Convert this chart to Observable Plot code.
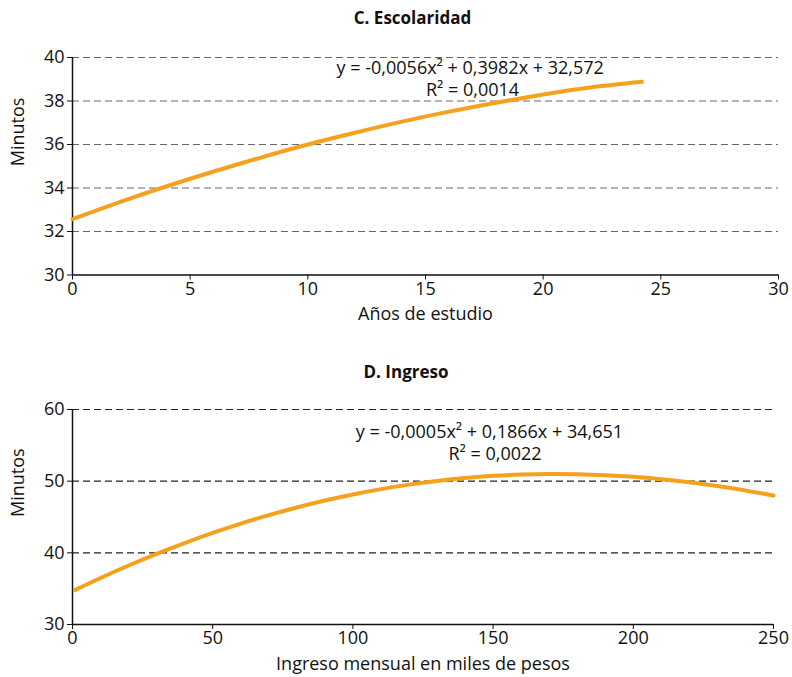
<!DOCTYPE html>
<html>
<head>
<meta charset="utf-8">
<script src="https://cdn.jsdelivr.net/npm/d3@7"></script>
<script src="https://cdn.jsdelivr.net/npm/@observablehq/plot@0.6"></script>
<style>
  body { margin: 0; background: #fff; }
  svg { display: block; }
</style>
</head>
<body>
<div id="chart"></div>
<script>
// ---- Panel C: Escolaridad ----
const cTitle = "C. Escolaridad";
const cXLabel = "Años de estudio";
const cYears   = [0, 2, 4, 6, 8, 10, 12, 14, 16, 18, 20, 22, 24.2];
const cMinutes = [32.57, 33.35, 34.08, 34.76, 35.40, 36.00, 36.54, 37.05, 37.51, 37.92, 38.30, 38.62, 38.88];
const cXTicks = [0, 5, 10, 15, 20, 25, 30];
const cYTicks = [30, 32, 34, 36, 38, 40];
const cEquation = ["y = -0,0056x² + 0,3982x + 32,572", "R² = 0,0014"];

// ---- Panel D: Ingreso ----
const dTitle = "D. Ingreso";
const dXLabel = "Ingreso mensual en miles de pesos";
const dIncome  = [1, 10, 20, 30, 40, 50, 60, 70, 80, 90, 100, 110, 120, 130, 140, 150, 160, 170, 180, 190, 200, 210, 220, 230, 240, 250];
const dMinutes = [34.83, 36.49, 38.23, 39.86, 41.37, 42.78, 44.08, 45.26, 46.33, 47.30, 48.15, 48.89, 49.52, 50.03, 50.44, 50.74, 50.92, 51.00, 50.97, 50.84, 50.61, 50.28, 49.86, 49.33, 48.71, 48.00];
const dXTicks = [0, 50, 100, 150, 200, 250];
const dYTicks = [30, 40, 50, 60];
const dEquation = ["y = -0,0005x² + 0,1866x + 34,651", "R² = 0,0022"];

const yLabel = "Minutos";
const FONT = "'Open Sans', 'Noto Sans', sans-serif";
const ORANGE = "#F6A11E";

function panel(o) {
  const data = o.xs.map((x, i) => ({x, y: o.ys[i]}));
  return Plot.plot({
    width: 792,
    height: o.height,
    marginTop: o.marginTop,
    marginBottom: o.marginBottom,
    marginLeft: 72,
    marginRight: o.marginRight,
    style: {fontFamily: FONT, fontSize: "18px", color: "#111", background: "#fff", overflow: "visible"},
    x: {domain: o.xDomain, label: null},
    y: {domain: o.yDomain, label: null},
    marks: [
      Plot.ruleY(o.yTicks.filter(t => t !== o.yDomain[0]), {stroke: o.gridColor, strokeDasharray: "7,4", strokeWidth: 1.2}),
      Plot.axisX({ticks: o.xTicks, tickSize: 5, tickPadding: 2, label: null, tickFormat: d => String(d), fontSize: 18, stroke: "#111"}),
      Plot.axisY({ticks: o.yTicks, tickSize: 5, tickPadding: 3, label: null, tickFormat: d => String(d), fontSize: 18, stroke: "#111"}),
      Plot.ruleX([o.xDomain[0]], {stroke: "#111", strokeWidth: 1.5}),
      Plot.ruleY([o.yDomain[0]], {stroke: "#111", strokeWidth: 1.5}),
      Plot.line(data, {x: "x", y: "y", stroke: ORANGE, strokeWidth: 4, curve: "natural"}),
      Plot.text([o.eq[0]], {x: o.eqX[0], y: o.eqY[0], text: d => d, fontSize: 18, textAnchor: "middle", fill: "#111"}),
      Plot.text([o.eq[1]], {x: o.eqX[1], y: o.eqY[1], text: d => d, fontSize: 18, textAnchor: "middle", fill: "#111"}),
      Plot.text([o.title], {frameAnchor: "top", dx: o.titleDx, dy: o.titleDy, text: d => d, lineAnchor: "middle", fontWeight: "bold", fontSize: 17, fill: "#111"}),
      Plot.text([yLabel], {frameAnchor: "left", dx: -54, rotate: -90, text: d => d, lineAnchor: "middle", fontSize: 18, fill: "#111"}),
      Plot.text([o.xLabel], {frameAnchor: "bottom", dy: o.xLabelDy, text: d => d, lineAnchor: "middle", fontSize: 18, fill: "#111"})
    ]
  });
}

const chart = document.getElementById("chart");
chart.append(panel({
  title: cTitle, xLabel: cXLabel, xs: cYears, ys: cMinutes,
  xDomain: [0, 30], yDomain: [30, 40], xTicks: cXTicks, yTicks: cYTicks,
  eq: cEquation, eqX: [16.9, 17.0], eqY: [39.49, 38.48],
  gridColor: "#666", height: 340, marginTop: 57, marginBottom: 65.5, marginRight: 14,
  titleDx: -13, titleDy: -39, xLabelDy: 39.5
}));
chart.append(panel({
  title: dTitle, xLabel: dXLabel, xs: dIncome, ys: dMinutes,
  xDomain: [0, 250], yDomain: [30, 60], xTicks: dXTicks, yTicks: dYTicks,
  eq: dEquation, eqX: [148.7, 150.7], eqY: [56.79, 53.72],
  gridColor: "#222", height: 337, marginTop: 69, marginBottom: 53, marginRight: 19,
  titleDx: -17, titleDy: -37, xLabelDy: 40
}));
</script>
</body>
</html>
